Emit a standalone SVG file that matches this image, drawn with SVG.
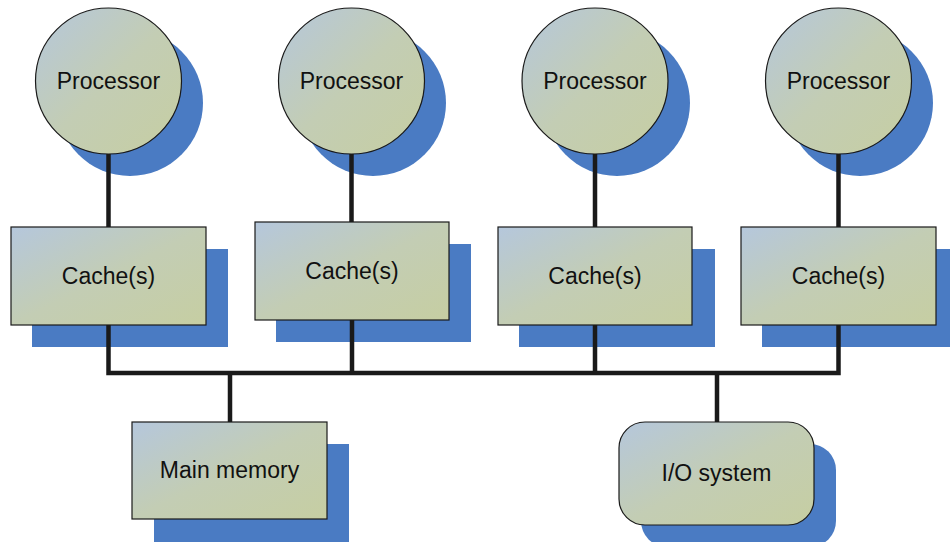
<svg xmlns="http://www.w3.org/2000/svg" width="950" height="542" viewBox="0 0 950 542">
<defs>
<linearGradient id="g" x1="0" y1="0" x2="1" y2="1">
<stop offset="0" stop-color="#b5c7dc"/>
<stop offset="0.5" stop-color="#c3cdb4"/>
<stop offset="1" stop-color="#c6cea2"/>
</linearGradient>
<style>
.sh{fill:#4a7bc3}
.nd{fill:url(#g);stroke:#1a1a1a;stroke-width:1.2}
.t{font-family:"Liberation Sans",Arial,sans-serif;font-size:23px;fill:#111;text-anchor:middle;dominant-baseline:central}
.c{fill:none;stroke:#1a1a1a;stroke-width:4.5;stroke-linejoin:miter}
</style>
</defs>
<rect width="950" height="542" fill="#fff"/>
<g id="p1"><circle class="sh" cx="130" cy="103" r="73"/><circle class="nd" cx="108.5" cy="81" r="73"/><text class="t" x="108.5" y="81">Processor</text></g>
<g id="p2"><circle class="sh" cx="373" cy="103" r="73"/><circle class="nd" cx="351.5" cy="81" r="73"/><text class="t" x="351.5" y="81">Processor</text></g>
<g id="p3"><circle class="sh" cx="617" cy="103" r="73"/><circle class="nd" cx="595" cy="81" r="73"/><text class="t" x="595" y="81">Processor</text></g>
<g id="p4"><circle class="sh" cx="860" cy="103" r="73"/><circle class="nd" cx="838.5" cy="81" r="73"/><text class="t" x="838.5" y="81">Processor</text></g>
<g id="c1"><rect class="sh" x="32" y="249" width="196" height="98"/><rect class="nd" x="11" y="227" width="195" height="98"/><text class="t" x="108.5" y="276">Cache(s)</text></g>
<g id="c2"><rect class="sh" x="276" y="244" width="195" height="98"/><rect class="nd" x="255" y="222" width="194" height="98"/><text class="t" x="352" y="271">Cache(s)</text></g>
<g id="c3"><rect class="sh" x="519" y="249" width="196" height="98"/><rect class="nd" x="498" y="227" width="194" height="98"/><text class="t" x="595" y="276">Cache(s)</text></g>
<g id="c4"><rect class="sh" x="762" y="249" width="196" height="98"/><rect class="nd" x="741" y="227" width="195" height="98"/><text class="t" x="838.5" y="276">Cache(s)</text></g>
<g id="mem"><rect class="sh" x="154" y="444" width="195" height="98"/><rect class="nd" x="132" y="422" width="195" height="97"/><text class="t" x="229.5" y="470">Main memory</text></g>
<g id="io"><rect class="sh" x="641" y="444" width="195" height="103" rx="26"/><rect class="nd" x="619" y="422" width="195" height="103" rx="26"/><text class="t" x="716.5" y="473">I/O system</text></g>
<g id="connectors">
<path class="c" d="M108.5 154V227M351.5 154V222M595 154V227M838.5 154V227"/>
<path class="c" d="M108.5 325V373H838.5V325"/>
<path class="c" d="M352 320V373M595 325V373"/>
<path class="c" d="M230 373V422M717 373V422"/>
</g>
</svg>
